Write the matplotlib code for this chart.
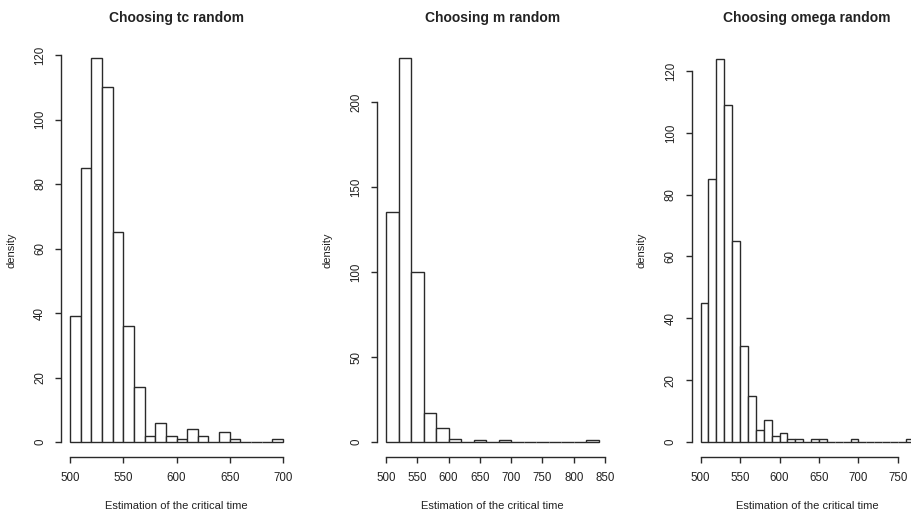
import numpy as np
import matplotlib
matplotlib.use("Agg")
import matplotlib.pyplot as plt

plt.rcParams['font.family'] = ['Liberation Sans', 'DejaVu Sans']

# histogram counts
tc_edges = np.arange(500, 710, 10)
tc_counts = [39, 85, 119, 110, 65, 36, 17, 2, 6, 2, 1, 4, 2, 0, 3, 1, 0, 0, 0, 1]

m_edges = np.arange(500, 860, 20)
m_counts = [135, 226, 100, 17, 8, 2, 0, 1, 0, 1, 0, 0, 0, 0, 0, 0, 1]

om_edges = np.arange(500, 780, 10)
om_counts = [45, 85, 124, 109, 65, 31, 15, 4, 7, 2, 3, 1, 1, 0, 1, 1, 0, 0, 0, 1,
             0, 0, 0, 0, 0, 0, 1]

titles = ['Choosing tc random', 'Choosing m random', 'Choosing omega random']
xticks_list = [np.arange(500, 750, 50), np.arange(500, 900, 50), np.arange(500, 800, 50)]
yticks_list = [np.arange(0, 140, 20), np.arange(0, 250, 50), np.arange(0, 140, 20)]

W, H = 912, 515
fig = plt.figure(figsize=(W / 100, H / 100), dpi=100)

# plot regions in pixels: left, right, top, bottom
boxes = [(61.5, 291.5, 42.9, 457.4), (377.5, 607.3, 42.4, 457.4), (692, 922.3, 43.3, 457.3)]

data = [(tc_edges, tc_counts), (m_edges, m_counts), (om_edges, om_counts)]

for i, ((edges, counts), box) in enumerate(zip(data, boxes)):
    l, r, t, b = box
    ax = fig.add_axes([l / W, (H - b) / H, (r - l) / W, (b - t) / H])
    edges = np.asarray(edges)
    counts = np.asarray(counts)
    ax.bar(edges[:-1], counts, width=np.diff(edges), align='edge',
           color='white', edgecolor='#2a2a2a', linewidth=1.0)
    lo, hi = edges[0], edges[-1]
    xr = hi - lo
    ax.set_xlim(lo - 0.04 * xr, hi + 0.04 * xr)
    ymax = counts.max()
    ax.set_ylim(-0.04 * ymax, 1.04 * ymax)

    xt = [v for v in xticks_list[i] if v <= hi + 0.04 * xr]
    yt = yticks_list[i]
    ax.set_xticks(xt)
    ax.set_yticks(yt)
    ax.set_yticklabels([str(v) for v in yt], rotation=90, va='center')
    ax.spines['top'].set_visible(False)
    ax.spines['right'].set_visible(False)
    ax.spines['bottom'].set_bounds(xt[0], xt[-1])
    ax.spines['left'].set_bounds(yt[0], yt[-1])
    for s in ['bottom', 'left']:
        ax.spines[s].set_linewidth(1.0)
        ax.spines[s].set_color('#2a2a2a')
    ax.tick_params(length=4.5, width=1.0, color='#2a2a2a', labelsize=8.3,
                   labelcolor='#222222')
    ax.tick_params(axis='x', pad=6)
    ax.tick_params(axis='y', pad=6.5)
    ax.set_title(titles[i], fontsize=10, fontweight='bold', pad=15, color='#222222')
    ax.set_xlabel('Estimation of the critical time', fontsize=8, labelpad=12,
                  color='#222222')
    ax.set_ylabel('density', fontsize=8, labelpad=13, color='#222222')
    ax.patch.set_alpha(0)

fig.savefig('out.png', dpi=100)
